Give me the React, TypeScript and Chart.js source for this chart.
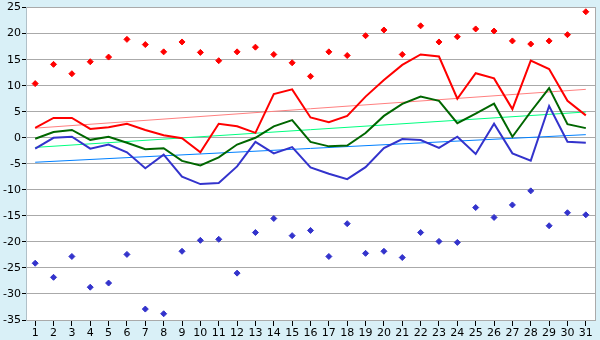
import React, { useEffect, useRef } from "react";
import { Chart, registerables } from "chart.js";

Chart.register(...registerables);

const days = ["1","2","3","4","5","6","7","8","9","10","11","12","13","14","15","16","17","18","19","20","21","22","23","24","25","26","27","28","29","30","31"];

const absMax = [10.4, 14.1, 12.3, 14.6, 15.5, 18.9, 17.9, 16.5, 18.4, 16.4, 14.8, 16.5, 17.4, 16.0, 14.4, 11.8, 16.5, 15.8, 19.6, 20.7, 16.0, 21.5, 18.4, 19.4, 20.9, 20.5, 18.6, 18.0, 18.6, 19.8, 24.2];
const absMin = [-24.1, -26.8, -22.8, -28.7, -27.9, -22.4, -32.9, -33.8, -21.8, -19.7, -19.5, -26.0, -18.2, -15.5, -18.8, -17.8, -22.8, -16.5, -22.2, -21.8, -23.0, -18.2, -19.9, -20.1, -13.4, -15.3, -12.9, -10.2, -16.9, -14.4, -14.8];
const avgMax = [1.9, 3.8, 3.8, 1.7, 2.0, 2.7, 1.5, 0.5, -0.1, -2.8, 2.7, 2.2, 0.95, 8.4, 9.3, 3.9, 3.0, 4.2, 7.9, 11.1, 14.0, 16.0, 15.6, 7.5, 12.4, 11.4, 5.5, 14.8, 13.2, 7.1, 4.3];
const avgMean = [-0.2, 1.1, 1.5, -0.4, 0.2, -0.95, -2.2, -2.0, -4.45, -5.3, -3.75, -1.3, 0.0, 2.2, 3.4, -0.8, -1.65, -1.5, 0.9, 4.2, 6.5, 7.9, 7.1, 2.8, 4.65, 6.55, 0.2, 5.0, 9.55, 2.6, 1.85];
const avgMin = [-2.1, 0.0, 0.2, -2.1, -1.3, -2.8, -5.85, -3.25, -7.45, -8.9, -8.7, -5.5, -0.8, -3.0, -1.8, -5.7, -6.9, -7.95, -5.65, -2.0, -0.25, -0.45, -1.95, 0.2, -3.1, 2.7, -3.0, -4.4, 6.1, -0.75, -0.95];

// trend line endpoints (day 1, day 31)
const trendMax = [1.85, 9.3];
const trendMean = [-1.85, 4.95];
const trendMin = [-4.7, 0.6];

const yTicks = [25, 20, 15, 10, 5, 0, -5, -10, -15, -20, -25, -30, -35];

function trendData(ends: number[]) {
  return days.map((_, i) => (i === 0 ? ends[0] : i === days.length - 1 ? ends[1] : null));
}

const plotBg = {
  id: "plotBg",
  beforeDraw(chart: any) {
    const { ctx, chartArea } = chart;
    if (!chartArea) return;
    ctx.save();
    ctx.fillStyle = "#ffffff";
    ctx.fillRect(chartArea.left, chartArea.top, chartArea.right - chartArea.left, chartArea.bottom - chartArea.top);
    ctx.restore();
  },
};

export default function App() {
  const ref = useRef<HTMLCanvasElement | null>(null);

  useEffect(() => {
    if (!ref.current) return;
    const font = { family: "DejaVu Sans", size: 11 };
    const chart = new Chart(ref.current, {
      type: "line",
      data: {
        labels: days,
        datasets: [
          { data: trendData(trendMax), borderColor: "#ff8080", borderWidth: 1, pointRadius: 0, spanGaps: true, order: 10 },
          { data: trendData(trendMean), borderColor: "#00ff80", borderWidth: 1, pointRadius: 0, spanGaps: true, order: 10 },
          { data: trendData(trendMin), borderColor: "#0080ff", borderWidth: 1, pointRadius: 0, spanGaps: true, order: 10 },
          { data: avgMax, borderColor: "#ff0000", borderWidth: 2, pointRadius: 0, order: 5 },
          { data: avgMean, borderColor: "#006600", borderWidth: 2, pointRadius: 0, order: 5 },
          { data: avgMin, borderColor: "#3333cc", borderWidth: 2, pointRadius: 0, order: 5 },
          { data: absMax, showLine: false, pointStyle: "rectRot", pointRadius: 3, borderWidth: 1, borderColor: "#ff0000", backgroundColor: "#ff0000", order: 1 },
          { data: absMin, showLine: false, pointStyle: "rectRot", pointRadius: 3, borderWidth: 1, borderColor: "#3333cc", backgroundColor: "#3333cc", order: 1 },
        ],
      },
      options: {
        responsive: false,
        animation: false,
        layout: { padding: { top: 5, left: 0, right: 0, bottom: 0 } },
        plugins: { legend: { display: false }, tooltip: { enabled: false } },
        elements: { line: { tension: 0 } },
        scales: {
          x: {
            type: "category",
            offset: true,
            grid: { display: true, drawOnChartArea: false, offset: false, tickLength: 6, tickColor: "#000", tickWidth: 1 },
            border: { display: true, color: "#aaaaaa", width: 1 },
            ticks: { color: "#000", font, padding: 1, maxRotation: 0, autoSkip: false },
            afterFit: (s: any) => { s.height = 20; },
          },
          y: {
            type: "linear",
            min: -35,
            max: 25,
            afterBuildTicks: (s: any) => { s.ticks = yTicks.map((v) => ({ value: v })); },
            grid: { color: "#aaaaaa", lineWidth: 1, tickLength: 4, tickColor: "#000" },
            border: { display: true, color: "#b0c0c8", width: 1 },
            ticks: { color: "#000", font, padding: 1 },
            afterFit: (s: any) => { s.width = 26; },
          },
          y2: {
            type: "linear",
            position: "right",
            min: -35,
            max: 25,
            grid: { display: true, drawOnChartArea: false, tickLength: 0 },
            border: { display: true, color: "#aaaaaa", width: 1 },
            ticks: { display: false },
            afterFit: (s: any) => { s.width = 5; },
          },
        },
      },
      plugins: [plotBg],
    } as any);
    return () => chart.destroy();
  }, []);

  return (
    <div style={{ position: "fixed", left: 0, top: 0, width: 600, height: 340, background: "#d9f0f7" }}>
      <canvas ref={ref} width={600} height={340} style={{ display: "block" }} />
    </div>
  );
}
